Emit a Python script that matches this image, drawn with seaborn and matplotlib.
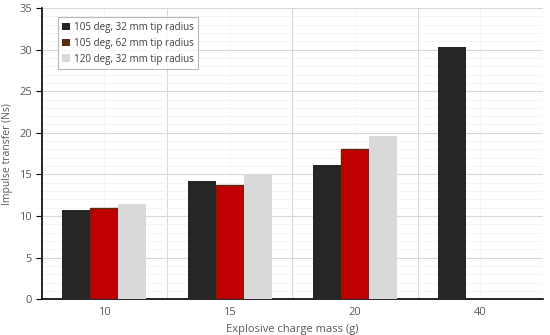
import matplotlib
matplotlib.use("Agg")
import matplotlib.pyplot as plt
import seaborn as sns
import pandas as pd
import numpy as np
from matplotlib.patches import Patch
from matplotlib.ticker import MultipleLocator

categories = ["10", "15", "20", "40"]
series_names = ["105 deg, 32 mm tip radius", "105 deg, 62 mm tip radius", "120 deg, 32 mm tip radius"]
s1 = [10.7, 14.2, 16.1, 30.3]
s2 = [11.0, 13.7, 18.1, np.nan]
s3 = [11.5, 15.0, 19.6, np.nan]

rows = []
for name, vals in zip(series_names, [s1, s2, s3]):
    for c, v in zip(categories, vals):
        if not np.isnan(v):
            rows.append({"mass": c, "series": name, "impulse": v})
df = pd.DataFrame(rows)

sns.set_style("white")
plt.rcParams['font.family'] = ['Open Sans', 'DejaVu Sans']

fig = plt.figure(figsize=(5.5, 3.35), dpi=100)
ax = fig.add_axes([0.076, 0.107, 0.911, 0.869])

bar_colors = ["#262626", "#C00000", "#D9D9D9"]
legend_colors = ["#262626", "#5B2C0F", "#D9D9D9"]
sns.barplot(data=df, x="mass", y="impulse", hue="series", order=categories,
            hue_order=series_names, palette=bar_colors, width=0.67,
            saturation=1, ax=ax, legend=False, zorder=3, linewidth=0, errorbar=None)
for p in ax.patches:
    if np.allclose(p.get_facecolor()[:3], matplotlib.colors.to_rgb("#C00000")):
        p.set_edgecolor("#5B2C0F")
        p.set_linewidth(1.0)

ax.set_xlim(-0.5, 3.5)
ax.set_ylim(0, 35)
ax.yaxis.set_major_locator(MultipleLocator(5))
ax.yaxis.set_minor_locator(MultipleLocator(1))
ax.set_xticks([0.5, 1.5, 2.5, 3.5])
ax.set_xticklabels([])
ax.set_xticks(range(len(categories)), minor=True)
ax.set_xticklabels(categories, minor=True)
ax.tick_params(axis="x", which="major", length=4, color="black", direction="out")
ax.tick_params(axis="x", which="minor", length=0, labelsize=8, labelcolor="#595959", pad=6)
ax.tick_params(axis="y", which="major", length=4, color="black", labelsize=8, labelcolor="#595959", direction="out", left=True, pad=3)
ax.tick_params(axis="y", which="minor", length=0)

ax.grid(True, which="major", color="#D9D9D9", linewidth=0.8, zorder=0)
ax.grid(True, which="minor", color="#F2F2F2", linewidth=0.6, zorder=0)
ax.set_axisbelow(True)

for s in ["top", "right"]:
    ax.spines[s].set_visible(False)
for s in ["left", "bottom"]:
    ax.spines[s].set_color("black")
    ax.spines[s].set_linewidth(1.2)

ax.set_xlabel("Explosive charge mass (g)", fontsize=8, color="#595959", labelpad=4)
ax.set_ylabel("Impulse transfer (Ns)", fontsize=7.5, color="#595959", labelpad=2)
ax.yaxis.set_label_coords(-0.058, 0.5)

handles = [Patch(facecolor=c, edgecolor="none") for c in legend_colors]
leg = ax.legend(handles, series_names, loc="upper left", bbox_to_anchor=(0.022, 0.985),
                fontsize=7.1, frameon=True, fancybox=False, handlelength=0.8,
                handleheight=0.8, handletextpad=0.4, borderpad=0.45, labelspacing=0.5)
leg.get_frame().set_edgecolor("#A6A6A6")
leg.get_frame().set_linewidth(0.8)
for t in leg.get_texts():
    t.set_color("#404040")

fig.savefig("out.png", dpi=100)
